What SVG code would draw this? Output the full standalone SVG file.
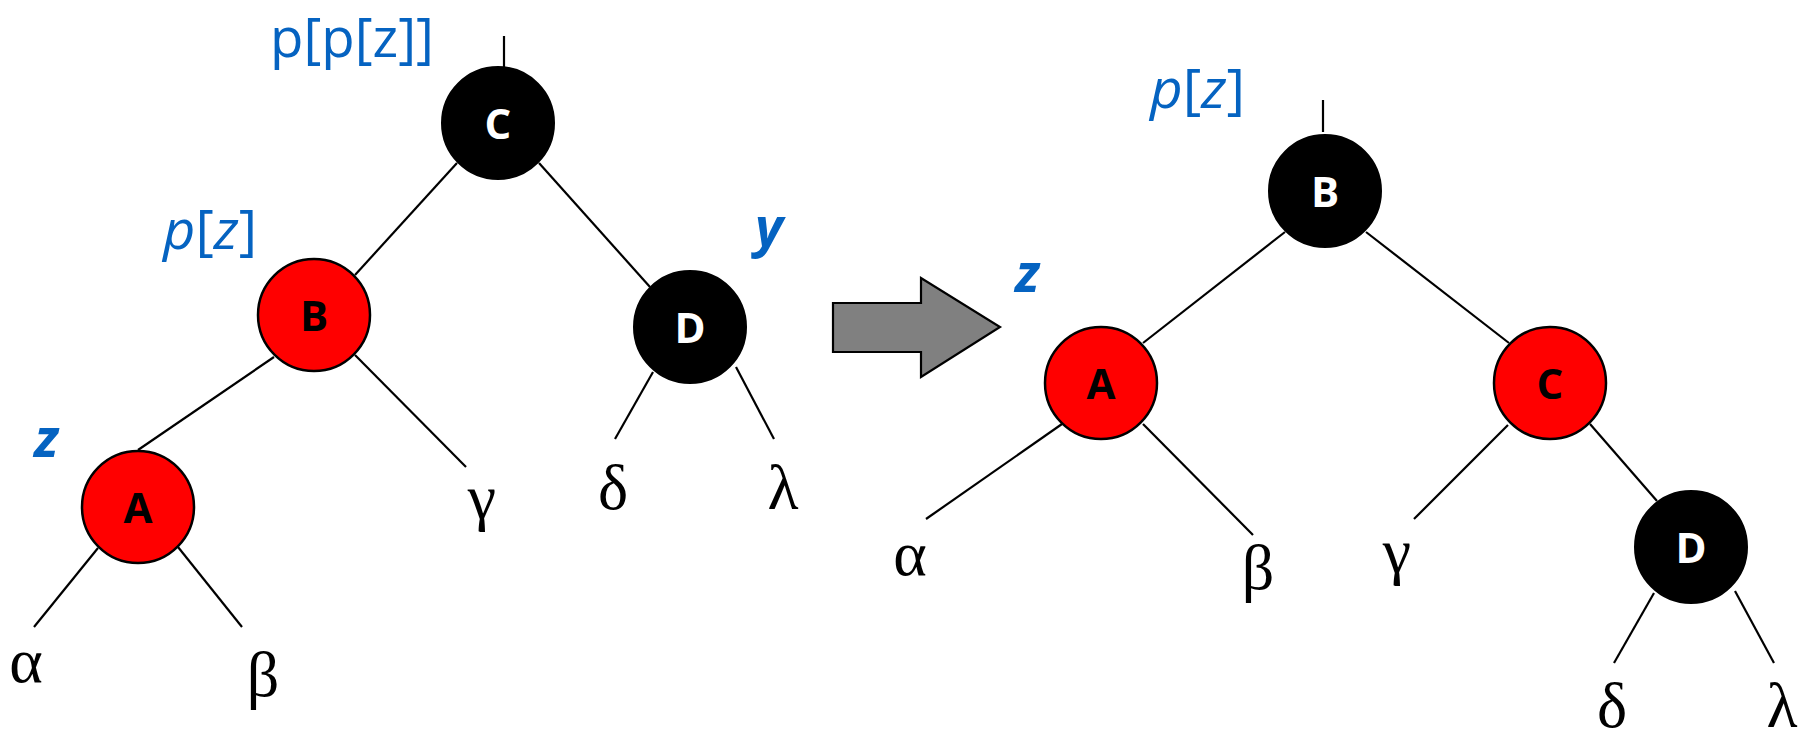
<svg xmlns="http://www.w3.org/2000/svg" width="1807" height="742" viewBox="0 0 1807 742">
<style>
.edge{stroke:#000;stroke-width:2.2;fill:none}
.red{fill:#FF0000;stroke:#000;stroke-width:2.5}
.blk{fill:#000;stroke:#000;stroke-width:2}
.lblW{font-family:"Open Sans","Liberation Sans",sans-serif;font-weight:bold;font-size:42px;fill:#fff;text-anchor:middle}
.lblB{font-family:"Open Sans","Liberation Sans",sans-serif;font-weight:bold;font-size:42px;fill:#000;text-anchor:middle}
.greek{font-family:"Liberation Serif",serif;font-size:64px;fill:#000;text-anchor:middle}
.ptr{font-family:"Open Sans","Liberation Sans",sans-serif;font-size:54px;fill:#0563C1}
.var{font-family:"Open Sans","Liberation Sans",sans-serif;font-size:54px;font-weight:bold;font-style:italic;fill:#0563C1}
.it{font-style:italic}
</style>
<rect width="1807" height="742" fill="#fff"/>
<g id="connectors">
<line class="edge" x1="504" y1="36" x2="504" y2="67"/>
<line class="edge" x1="457" y1="163" x2="355" y2="275"/>
<line class="edge" x1="539" y1="163" x2="650" y2="287"/>
<line class="edge" x1="274" y1="357" x2="138" y2="450"/>
<line class="edge" x1="355" y1="355" x2="466" y2="467"/>
<line class="edge" x1="98" y1="548" x2="34" y2="627"/>
<line class="edge" x1="178" y1="547" x2="242" y2="627"/>
<line class="edge" x1="653" y1="372" x2="615" y2="439"/>
<line class="edge" x1="736" y1="367" x2="774" y2="439"/>
<line class="edge" x1="1323" y1="100" x2="1323" y2="132"/>
<line class="edge" x1="1285" y1="232" x2="1143" y2="343"/>
<line class="edge" x1="1366" y1="232" x2="1509" y2="343"/>
<line class="edge" x1="1062" y1="424" x2="926" y2="519"/>
<line class="edge" x1="1143" y1="424" x2="1253" y2="535"/>
<line class="edge" x1="1508" y1="425" x2="1414" y2="519"/>
<line class="edge" x1="1590" y1="424" x2="1657" y2="501"/>
<line class="edge" x1="1654" y1="593" x2="1614" y2="663"/>
<line class="edge" x1="1735" y1="591" x2="1774" y2="663"/>
</g>
<g id="arrow">
<polygon points="833,303 921,303 921,278 1000,327 921,377 921,352 833,352" fill="#808080" stroke="#000" stroke-width="2.2"/>
</g>
<g id="L-C"><circle class="blk" cx="498" cy="123" r="56"/><text class="lblW" x="498" y="139">C</text></g>
<g id="L-B"><circle class="red" cx="314" cy="315" r="56"/><text class="lblB" x="314" y="331">B</text></g>
<g id="L-A"><circle class="red" cx="138" cy="507" r="56"/><text class="lblB" x="138" y="523">A</text></g>
<g id="L-D"><circle class="blk" cx="690" cy="327" r="56"/><text class="lblW" x="690" y="343">D</text></g>
<g id="R-B"><circle class="blk" cx="1325" cy="191" r="56"/><text class="lblW" x="1325" y="207">B</text></g>
<g id="R-A"><circle class="red" cx="1101" cy="383" r="56"/><text class="lblB" x="1101" y="399">A</text></g>
<g id="R-C"><circle class="red" cx="1550" cy="383" r="56"/><text class="lblB" x="1550" y="399">C</text></g>
<g id="R-D"><circle class="blk" cx="1691" cy="547" r="56"/><text class="lblW" x="1691" y="563">D</text></g>
<g id="greek-left">
<text class="greek" x="26" y="682">α</text>
<text class="greek" x="263" y="696">β</text>
<text class="greek" x="482" y="518">γ</text>
<text class="greek" x="613" y="509">δ</text>
<text class="greek" x="783" y="509">λ</text>
</g>
<g id="greek-right">
<text class="greek" x="910" y="575">α</text>
<text class="greek" x="1258" y="589">β</text>
<text class="greek" x="1397" y="572">γ</text>
<text class="greek" x="1612" y="727">δ</text>
<text class="greek" x="1782" y="727">λ</text>
</g>
<g id="labels">
<text class="ptr" x="270" y="57" textLength="164" lengthAdjust="spacingAndGlyphs">p[p[z]]</text>
<text class="ptr" x="163" y="249" textLength="94" lengthAdjust="spacingAndGlyphs"><tspan class="it">p</tspan>[<tspan class="it">z</tspan>]</text>
<text class="ptr" x="1150" y="108" textLength="95" lengthAdjust="spacingAndGlyphs"><tspan class="it">p</tspan>[<tspan class="it">z</tspan>]</text>
<text class="var" x="34" y="457">z</text>
<text class="var" x="755" y="246">y</text>
<text class="var" x="1015" y="292">z</text>
</g>
</svg>
